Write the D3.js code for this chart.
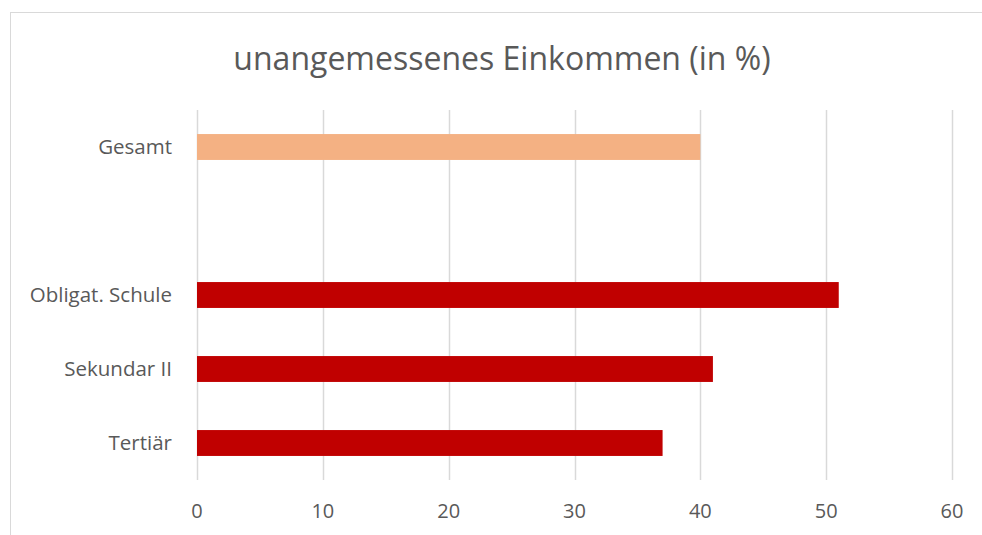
<!DOCTYPE html>
<html>
<head>
<meta charset="utf-8">
<script src="https://cdn.jsdelivr.net/npm/d3@7"></script>
<style>
  body { margin: 0; background: #fff; }
  svg { display: block; }
</style>
</head>
<body>
<div id="chart"></div>
<script>
// data
var categories = ["Gesamt", "", "Obligat. Schule", "Sekundar II", "Tertiär"];
var values = [40, null, 51, 41, 37];
var barColors = ["#F4B183", null, "#C00000", "#C00000", "#C00000"];
var ticks = [0, 10, 20, 30, 40, 50, 60];
var title = "unangemessenes Einkommen (in %)";

var width = 982, height = 535;
var font = "'Open Sans', 'Liberation Sans', sans-serif";

var svg = d3.select("#chart").append("svg")
  .attr("width", width)
  .attr("height", height);

// chart frame
svg.append("rect")
  .attr("x", 10.5).attr("y", 12.5)
  .attr("width", 990).attr("height", 540)
  .attr("fill", "#fff")
  .attr("stroke", "#d9d9d9");

var x = d3.scaleLinear().domain([0, 60]).range([197, 952]);
var y = d3.scaleBand().domain(d3.range(categories.length)).range([110, 480]).paddingInner(0.65).paddingOuter(0.325);

// gridlines
svg.append("g").selectAll("line")
  .data(ticks)
  .enter().append("line")
  .attr("x1", function(d) { return Math.round(x(d)) + 0.5; })
  .attr("x2", function(d) { return Math.round(x(d)) + 0.5; })
  .attr("y1", 110)
  .attr("y2", 480)
  .attr("stroke", "#d9d9d9")
  .attr("stroke-width", 1.5);

// x tick labels
svg.append("g").selectAll("text")
  .data(ticks)
  .enter().append("text")
  .attr("x", function(d) { return x(d); })
  .attr("y", 518)
  .attr("text-anchor", "middle")
  .attr("font-family", font)
  .attr("font-size", "20px")
  .attr("fill", "#595959")
  .text(function(d) { return d; });

var rows = categories.map(function(c, i) {
  return { name: c, value: values[i], color: barColors[i], i: i };
});

// bars
svg.append("g").selectAll("rect")
  .data(rows.filter(function(d) { return d.value != null; }))
  .enter().append("rect")
  .attr("x", x(0))
  .attr("y", function(d) { return y(d.i); })
  .attr("width", function(d) { return x(d.value) - x(0); })
  .attr("height", y.bandwidth())
  .attr("fill", function(d) { return d.color; });

// category labels
svg.append("g").selectAll("text")
  .data(rows)
  .enter().append("text")
  .attr("x", 172)
  .attr("y", function(d) { return y(d.i) + y.bandwidth() / 2; })
  .attr("dy", "0.35em")
  .attr("text-anchor", "end")
  .attr("font-family", font)
  .attr("font-size", "20.5px")
  .attr("fill", "#595959")
  .text(function(d) { return d.name; });

// title
svg.append("text")
  .attr("x", 502)
  .attr("y", 70)
  .attr("text-anchor", "middle")
  .attr("font-family", font)
  .attr("font-size", "32px")
  .attr("fill", "#595959")
  .text(title);
</script>
</body>
</html>
